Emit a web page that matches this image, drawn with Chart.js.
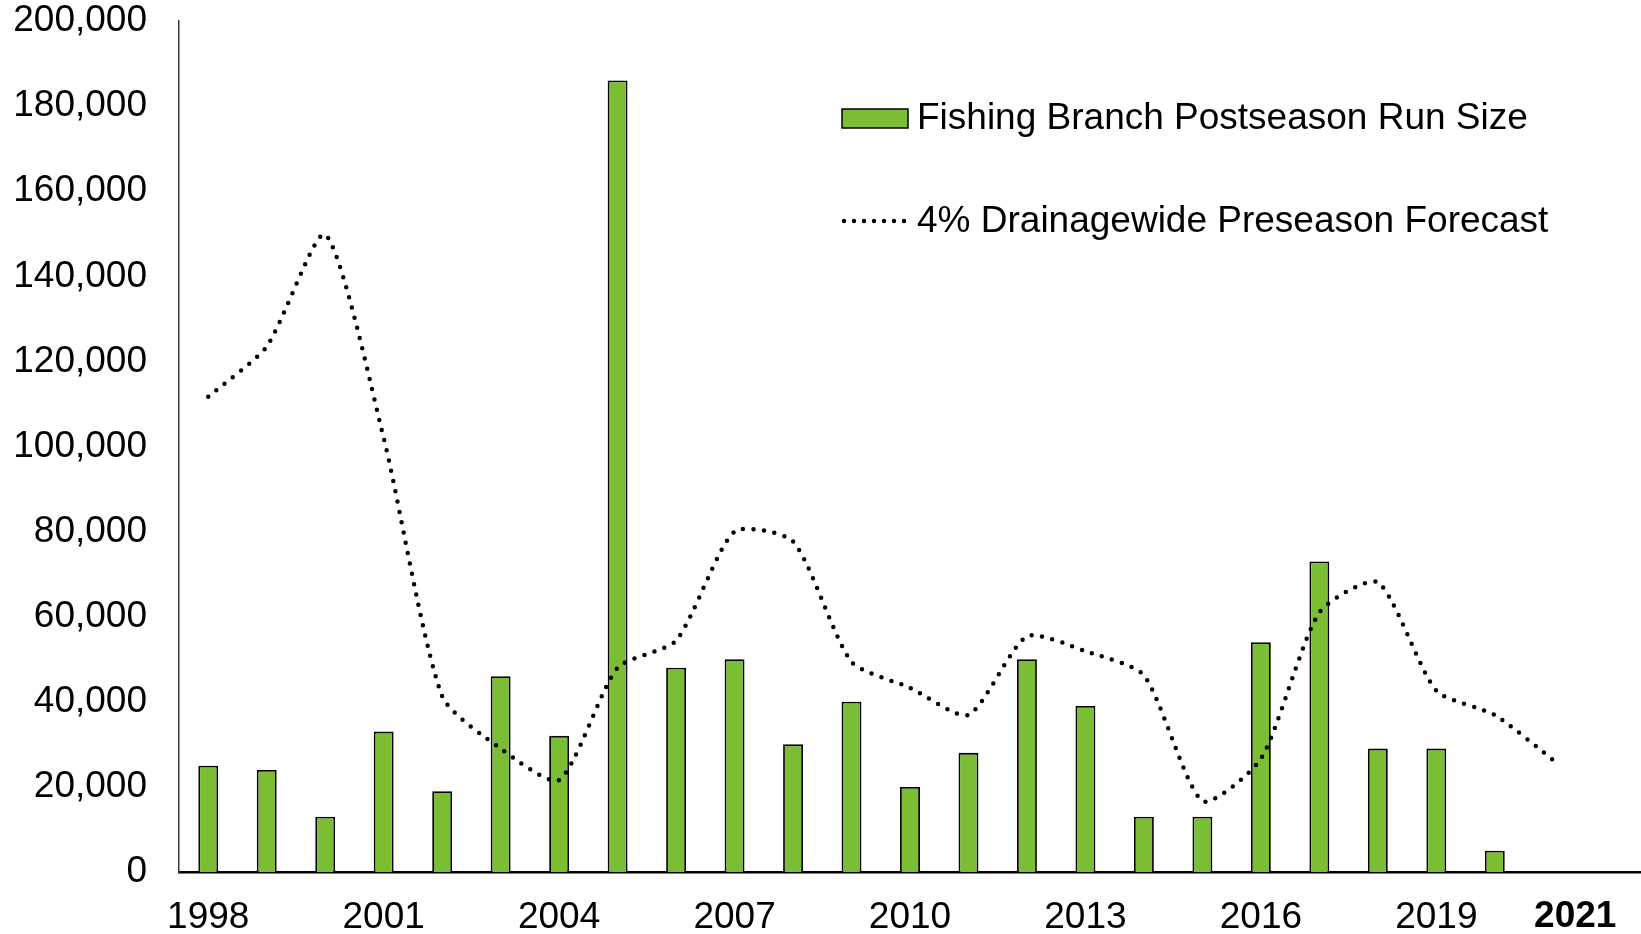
<!DOCTYPE html>
<html>
<head>
<meta charset="utf-8">
<script src="https://cdn.jsdelivr.net/npm/chart.js@4"></script>
<style>
  html, body { margin: 0; padding: 0; background: #fff; }
  #wrap { width: 1641px; height: 934px; }
</style>
</head>
<body>
<div id="wrap"><canvas id="chart" width="1641" height="934"></canvas></div>
<script>
// years on the x axis (last one left empty, the axis runs past 2021)
const years = [1998, 1999, 2000, 2001, 2002, 2003, 2004, 2005, 2006, 2007, 2008, 2009,
    2010, 2011, 2012, 2013, 2014, 2015, 2016, 2017, 2018, 2019, 2020, 2021, 2022];

// Fishing Branch postseason run size
const runSize = [25000, 24000, 13000, 33000, 19000, 46000, 32000, 186000, 48000, 50000, 30000, 40000,
    20000, 28000, 50000, 39000, 13000, 13000, 54000, 73000, 29000, 29000, 5000, null, null];

// 4% of the drainagewide preseason forecast
const forecast = [111700, 123500, 149800, 102000, 41300, 29000, 21600, 48000, 54400, 80000, 77700, 49400,
    43300, 36900, 55400, 51900, 46200, 16700, 26600, 61000, 68100, 42600, 36900, 26300, null];

const yTicks = [0, 20000, 40000, 60000, 80000, 100000, 120000, 140000, 160000, 180000, 200000];

const FONT = '"Liberation Sans", Arial, sans-serif';
const FS = 37;
const barGreen = '#7BBE33';

// legend drawn inside the plot, plus the bold 2021 label
const extras = {
    id: 'extras',
    afterDraw(chart) {
        const ctx = chart.ctx;
        ctx.save();
        ctx.font = `${FS}px ${FONT}`;
        ctx.textBaseline = 'middle';
        ctx.textAlign = 'left';

        // bar entry
        ctx.fillStyle = barGreen;
        ctx.fillRect(842, 109, 66, 19);
        ctx.strokeStyle = '#000';
        ctx.lineWidth = 1.5;
        ctx.strokeRect(842, 109, 66, 19);
        ctx.fillStyle = '#000';
        ctx.fillText('Fishing Branch Postseason Run Size', 917, 119);

        // line entry
        ctx.beginPath();
        ctx.setLineDash([0, 10]);
        ctx.lineCap = 'round';
        ctx.lineWidth = 4.5;
        ctx.moveTo(844, 221);
        ctx.lineTo(912, 221);
        ctx.stroke();
        ctx.setLineDash([]);
        ctx.fillText('4% Drainagewide Preseason Forecast', 917, 222);

        // 2021 label, bold and nudged right
        const xs = chart.scales.x;
        const x21 = xs.getPixelForValue(years.indexOf(2021)) + 22;
        ctx.font = `bold ${FS}px ${FONT}`;
        ctx.textAlign = 'center';
        ctx.fillText('2021', x21, 917);
        ctx.restore();
    }
};

new Chart(document.getElementById('chart'), {
    data: {
        labels: years,
        datasets: [
            {
                type: 'line',
                label: '4% Drainagewide Preseason Forecast',
                data: forecast,
                borderColor: '#000',
                borderWidth: 4.5,
                borderDash: [0, 10.5],
                borderCapStyle: 'round',
                pointRadius: 0,
                tension: 0.22,
                fill: false,
                order: 0
            },
            {
                type: 'bar',
                label: 'Fishing Branch Postseason Run Size',
                data: runSize,
                backgroundColor: barGreen,
                borderColor: '#000',
                borderWidth: 1.8,
                barPercentage: 0.34,
                categoryPercentage: 1,
                order: 1
            }
        ]
    },
    options: {
        responsive: false,
        animation: false,
        layout: { padding: { top: 21, left: 0, right: 0, bottom: 0 } },
        plugins: {
            legend: { display: false },
            tooltip: { enabled: false }
        },
        scales: {
            x: {
                grid: { display: false, drawTicks: false },
                border: { color: '#000', width: 2.5 },
                ticks: {
                    autoSkip: false,
                    maxRotation: 0,
                    padding: 24,
                    color: '#000',
                    font: { family: FONT, size: FS },
                    callback: function (v, i) {
                        const yr = years[i];
                        return ((yr - 1998) % 3 === 0 && yr <= 2019) ? String(yr) : '';
                    }
                },
                afterFit: (s) => {
                    s.height = 62;
                    s.paddingLeft = 0; s.paddingRight = 0;
                    s.paddingTop = 0; s.paddingBottom = 0;
                }
            },
            y: {
                min: 0,
                max: 200000,
                grid: { display: false, drawTicks: false },
                border: { color: '#3a3a3a', width: 1.5 },
                afterBuildTicks: (s) => { s.ticks = yTicks.map(v => ({ value: v })); },
                ticks: {
                    padding: 32,
                    color: '#000',
                    font: { family: FONT, size: FS },
                    callback: (v) => v.toLocaleString('en-US')
                },
                afterFit: (s) => {
                    s.width = 179;
                    s.paddingTop = 0; s.paddingBottom = 0;
                }
            }
        }
    },
    plugins: [extras]
});
</script>
</body>
</html>
